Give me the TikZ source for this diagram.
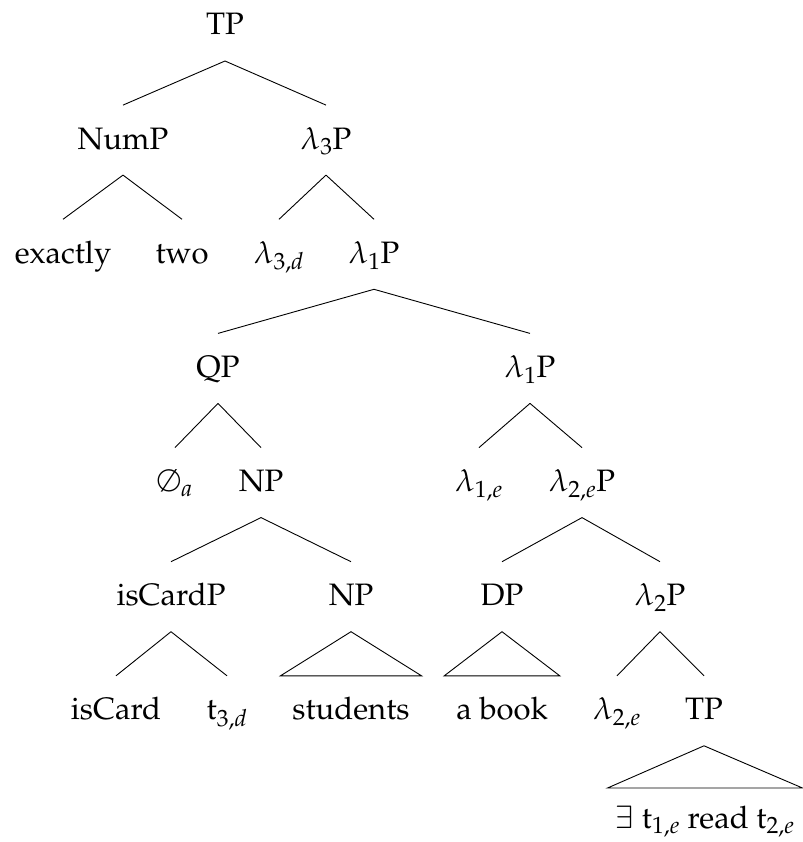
\documentclass[tikz,border=0pt]{standalone}
\usepackage[T1]{fontenc}
\usepackage{mathpazo}
\begin{document}
\begin{tikzpicture}[x=1pt,y=-1pt,
  lab/.style={anchor=base, inner xsep=0pt, inner ysep=14pt, text height=30pt, text depth=12pt, outer sep=0pt, font=\fontsize{31}{37}\selectfont},
  roof/.style={lab, inner xsep=12pt},
  br/.style={line width=0.9pt}]
\useasboundingbox (0,0) rectangle (802,842);
% row 0
\node[lab] (tp0) at (225,35) {TP};
% row 1
\node[lab] (nump) at (123,149.1) {NumP};
\node[lab] (l3p) at (326,149.1) {$\lambda_3$P};
% row 2
\node[lab] (exactly) at (63,263.3) {exactly};
\node[lab] (two) at (182,263.3) {two};
\node[lab] (l3d) at (279,263.3) {$\lambda_{3,d}$};
\node[lab] (l1pa) at (374,263.3) {$\lambda_1$P};
% row 3
\node[lab] (qp) at (218,377.4) {QP};
\node[lab] (l1pb) at (530,377.4) {$\lambda_1$P};
% row 4
\node[lab] (empty) at (175,491.6) {$\emptyset_a$};
\node[lab] (np1) at (261,491.6) {NP};
\node[lab] (l1e) at (479,491.6) {$\lambda_{1,e}$};
\node[lab] (l2ep) at (582,491.6) {$\lambda_{2,e}$P};
% row 5
\node[lab] (iscardp) at (171,605.7) {isCardP};
\node[lab] (np2) at (351,605.7) {NP};
\node[lab] (dp) at (502,605.7) {DP};
\node[lab] (l2p) at (660,605.7) {$\lambda_2$P};
% row 6
\node[lab] (iscard) at (116,719.8) {isCard};
\node[lab] (t3d) at (227,719.8) {t$_{3,d}$};
\node[roof] (students) at (351,719.8) {students};
\node[roof] (abook) at (502,719.8) {a book};
\node[lab] (l2e) at (617,719.8) {$\lambda_{2,e}$};
\node[lab] (tp2) at (704,719.8) {TP};
% row 7
\node[roof, inner xsep=8pt, inner ysep=10pt] (exists) at (705,828) {$\exists$\ t$_{1,e}$ read t$_{2,e}$};
% branches
\draw[br] (tp0.south) -- (nump.north);
\draw[br] (tp0.south) -- (l3p.north);
\draw[br] (nump.south) -- (exactly.north);
\draw[br] (nump.south) -- (two.north);
\draw[br] (l3p.south) -- (l3d.north);
\draw[br] (l3p.south) -- (l1pa.north);
\draw[br] (l1pa.south) -- (qp.north);
\draw[br] (l1pa.south) -- (l1pb.north);
\draw[br] (qp.south) -- (empty.north);
\draw[br] (qp.south) -- (np1.north);
\draw[br] (l1pb.south) -- (l1e.north);
\draw[br] (l1pb.south) -- (l2ep.north);
\draw[br] (np1.south) -- (iscardp.north);
\draw[br] (np1.south) -- (np2.north);
\draw[br] (l2ep.south) -- (dp.north);
\draw[br] (l2ep.south) -- (l2p.north);
\draw[br] (iscardp.south) -- (iscard.north);
\draw[br] (iscardp.south) -- (t3d.north);
\draw[br] (l2p.south) -- (l2e.north);
\draw[br] (l2p.south) -- (tp2.north);
% roofs
\draw[br] (np2.south) -- (students.north west) -- (students.north east) -- cycle;
\draw[br] (dp.south) -- (abook.north west) -- (abook.north east) -- cycle;
\draw[br] (tp2.south) -- (exists.north west) -- (exists.north east) -- cycle;
\end{tikzpicture}
\end{document}
